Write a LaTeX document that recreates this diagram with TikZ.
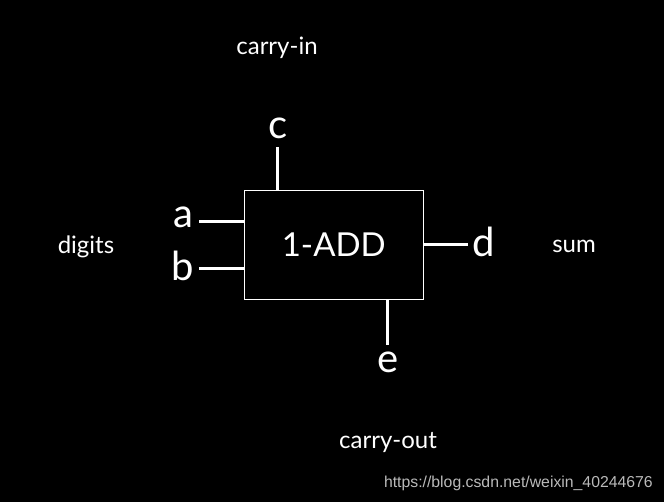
\documentclass[tikz,border=0pt]{standalone}
\usepackage{fontspec}
\setmainfont{Lato}
\newfontfamily\urlfont{Liberation Sans}
\usetikzlibrary{positioning}

\begin{document}
\begin{tikzpicture}[x=1pt, y=-1pt,
    wire/.style={draw=white, line width=3pt},
    pin/.style={text=white, inner sep=0pt, font=\fontsize{40}{40}\selectfont},
    note/.style={text=white, inner sep=0pt, anchor=base, font=\fontsize{24}{24}\selectfont}]
  \useasboundingbox[fill=black] (0, 0) rectangle (664, 502);
  % the adder box
  \node[draw=white, line width=1pt, minimum width=179pt, minimum height=109pt,
        text=white, font=\fontsize{33}{33}\selectfont] (add) at (333.8, 244.6) {1-ADD};
  % free ends of the wires
  \coordinate (cin)  at (277.7, 147);
  \coordinate (ain)  at (199, 222);
  \coordinate (bin)  at (199, 269);
  \coordinate (dout) at (467.7, 245);
  \coordinate (eout) at (387.3, 345);
  \draw[wire] (cin |- add.north) -- (cin);
  \draw[wire] (ain -| add.west) -- (ain);
  \draw[wire] (bin -| add.west) -- (bin);
  \draw[wire] (dout -| add.east) -- (dout);
  \draw[wire] (eout |- add.south) -- (eout);
  % pin letters
  \node[pin] (c) at (278, 128) {c};
  \node[pin] (a) at (183, 217) {a};
  \node[pin] (b) at (183, 266) {b};
  \node[pin] (d) at (484, 242) {d};
  \node[pin] (e) at (388, 362) {e};
  % notes
  \node[note] (carryin)  at (277, 54.5) {carry-in};
  \node[note] (digits)   at (86, 254)   {digits};
  \node[note] (sum)      at (574, 253)  {sum};
  \node[note] (carryout) at (388, 448)  {carry-out};
  \node[text=black!27, inner sep=0pt, anchor=east, font=\urlfont\fontsize{15.8}{15.8}\selectfont]
    (url) at (653, 483) {https://blog.csdn.net/weixin\_40244676};
\end{tikzpicture}
\end{document}
